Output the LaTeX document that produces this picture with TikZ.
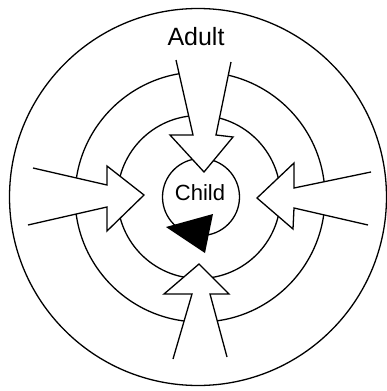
\documentclass[tikz,border=0pt]{standalone}
\usepackage{fontspec}
\setmainfont{Liberation Sans}
\begin{document}
\begin{tikzpicture}[x=1pt,y=-1pt,
  ring/.style={draw=black,line width=1.3pt},
  bigarrow/.style={draw=black,fill=white,line width=1.3pt,line join=miter}]
\useasboundingbox (0,0) rectangle (387,391);
% concentric circles
\draw[ring] (198,197) circle[radius=188.5pt];
\draw[ring] (200,197) circle[radius=125pt];
\draw[ring] (199,197) circle[radius=81.5pt];
\draw[ring] (201,197) circle[radius=38.5pt];
% arrows
\path[bigarrow] (176,60) -- (193,135) -- (170,135) -- (204,172) -- (233,137) -- (216,135) -- (231,62);
\path[bigarrow] (33,168) -- (107,185) -- (107,166) -- (144,195) -- (107,231) -- (107,207) -- (28,225);
\path[bigarrow] (371,172) -- (294,188) -- (294,163) -- (257,198) -- (293,229) -- (294,208) -- (368,225);
\path[bigarrow] (173,359) -- (192,294) -- (164,294) -- (199,264) -- (229,294) -- (210,294) -- (227,357);
% black triangle
\fill[black] (166,227) -- (213,214) -- (205,253) -- cycle;
% labels
\node[font=\fontsize{25}{30}\selectfont] (adult) at (196,37) {Adult};
\node[font=\fontsize{22}{26}\selectfont] (child) at (200,193) {Child};
\end{tikzpicture}
\end{document}
